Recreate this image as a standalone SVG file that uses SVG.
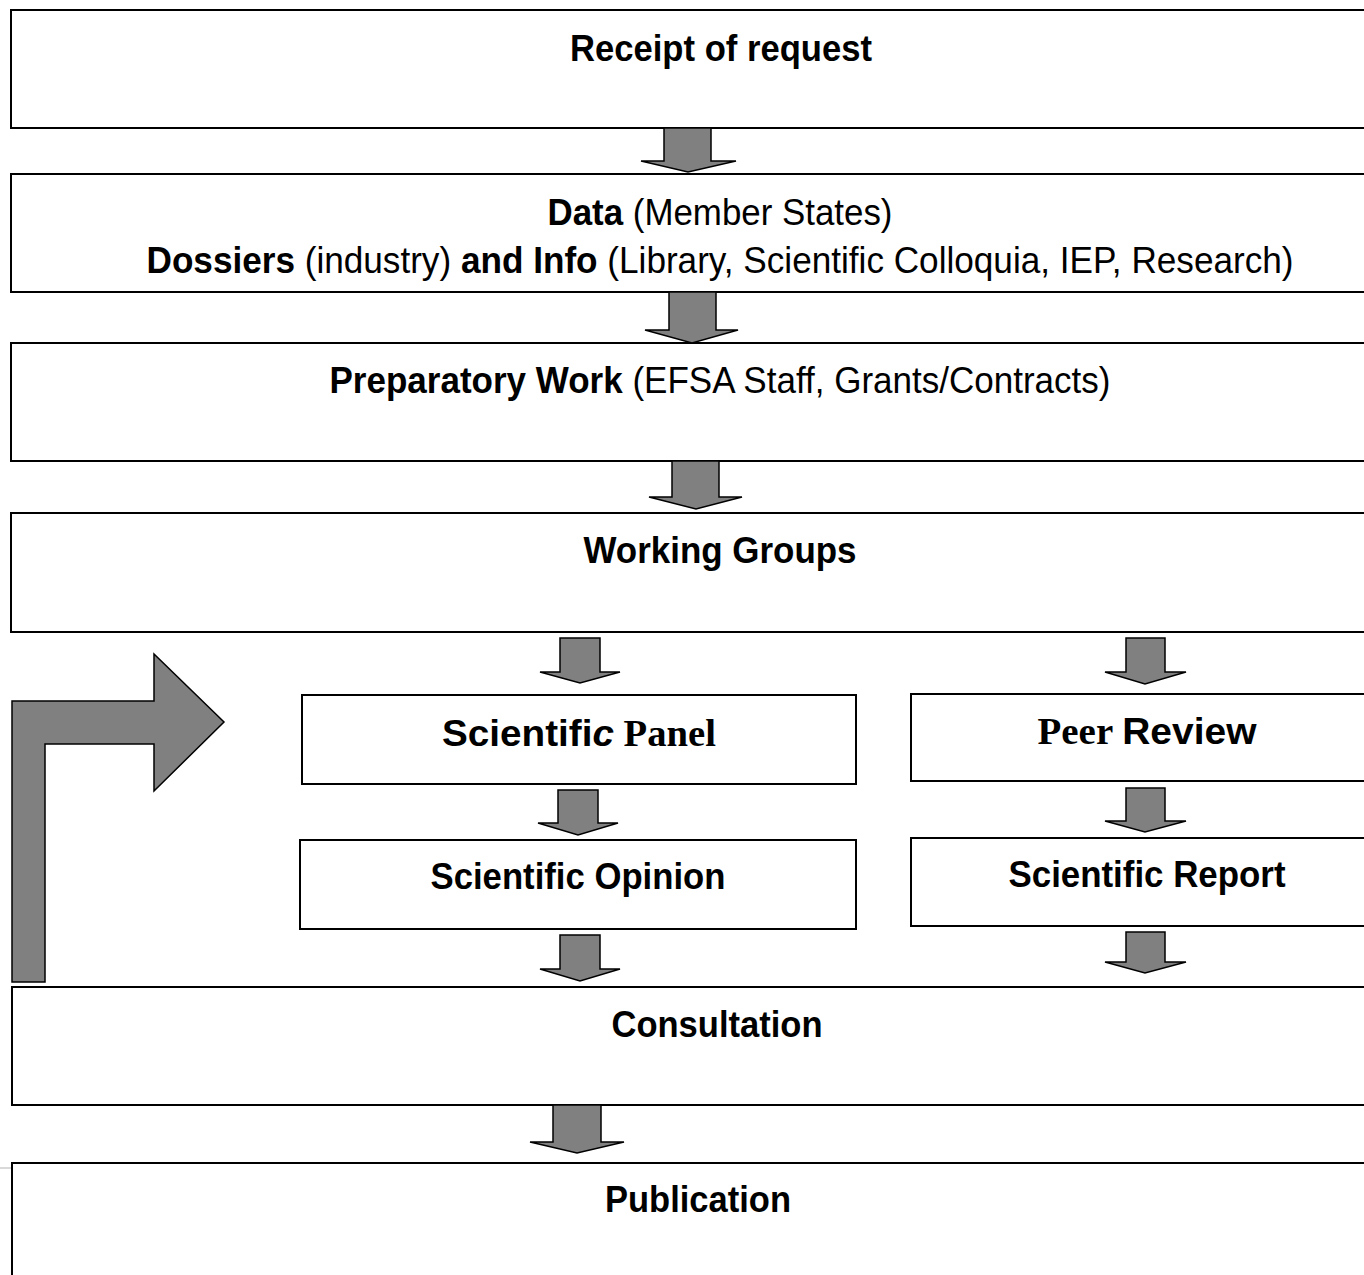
<svg xmlns="http://www.w3.org/2000/svg" width="1364" height="1275" viewBox="0 0 1364 1275">
<style>
.box{fill:#fff;stroke:#000;stroke-width:2}
.arr{fill:#808080;stroke:#000;stroke-width:1.5;stroke-linejoin:miter}
text{font-family:"Liberation Sans",Arial,sans-serif;font-size:37px;fill:#000;text-anchor:middle}
.b{font-weight:bold}
.serif{font-family:"Liberation Serif","Times New Roman",serif;font-weight:bold}
</style>
<rect width="1364" height="1275" fill="#fff"/>
<g id="receipt"><rect class="box" x="11" y="10" width="1380" height="118"/><text class="b" x="721" y="61" textLength="302" lengthAdjust="spacingAndGlyphs">Receipt of request</text></g>
<g id="data"><rect class="box" x="11" y="174" width="1380" height="118"/><text x="720" y="225" textLength="345" lengthAdjust="spacingAndGlyphs"><tspan class="b">Data</tspan> (Member States)</text><text x="720" y="273" textLength="1147" lengthAdjust="spacingAndGlyphs"><tspan class="b">Dossiers</tspan> (industry) <tspan class="b">and Info</tspan> (Library, Scientific Colloquia, IEP, Research)</text></g>
<g id="prep"><rect class="box" x="11" y="343" width="1380" height="118"/><text x="720" y="393" textLength="781" lengthAdjust="spacingAndGlyphs"><tspan class="b">Preparatory Work</tspan> (EFSA Staff, Grants/Contracts)</text></g>
<g id="wg"><rect class="box" x="11" y="513" width="1380" height="119"/><text class="b" x="720" y="563" textLength="273" lengthAdjust="spacingAndGlyphs">Working Groups</text></g>
<g id="panel"><rect class="box" x="302" y="695" width="554" height="89"/><text x="579" y="746" textLength="274" lengthAdjust="spacingAndGlyphs"><tspan class="b">Scientifi</tspan><tspan class="b" font-style="italic">c</tspan><tspan class="serif"> Panel</tspan></text></g>
<g id="peer"><rect class="box" x="911" y="694" width="480" height="87"/><text x="1147" y="744" textLength="219" lengthAdjust="spacingAndGlyphs"><tspan class="serif">Peer </tspan><tspan class="b">Review</tspan></text></g>
<g id="opinion"><rect class="box" x="300" y="840" width="556" height="89"/><text class="b" x="578" y="889" textLength="295" lengthAdjust="spacingAndGlyphs">Scientific Opinion</text></g>
<g id="report"><rect class="box" x="911" y="838" width="480" height="88"/><text class="b" x="1147" y="887" textLength="277" lengthAdjust="spacingAndGlyphs">Scientific Report</text></g>
<g id="consultation"><rect class="box" x="12" y="987" width="1380" height="118"/><text class="b" x="717" y="1037" textLength="211" lengthAdjust="spacingAndGlyphs">Consultation</text></g>
<g id="publication"><line x1="0" y1="1168" x2="12" y2="1168" stroke="#ccc" stroke-width="1.5"/><rect class="box" x="12" y="1163" width="1380" height="130"/><text class="b" x="698" y="1212" textLength="186" lengthAdjust="spacingAndGlyphs">Publication</text></g>
<g id="connectors">
<polygon class="arr" points="664,128 711,128 711,161 736,161 688,172 641,161 664,161"/>
<polygon class="arr" points="669,292 716,292 716,330 738,330 692,343 645,330 669,330"/>
<polygon class="arr" points="672,461 719,461 719,497 742,497 696,509 649,497 672,497"/>
<polygon class="arr" points="560,638 600,638 600,672 620,672 580,683 540,672 560,672"/>
<polygon class="arr" points="1126,638 1165,638 1165,672 1186,672 1145,684 1105,672 1126,672"/>
<polygon class="arr" points="558,790 598,790 598,823 618,823 578,835 538,823 558,823"/>
<polygon class="arr" points="1126,788 1165,788 1165,821 1186,821 1145,832 1105,821 1126,821"/>
<polygon class="arr" points="560,935 600,935 600,969 620,969 580,981 540,969 560,969"/>
<polygon class="arr" points="1126,932 1165,932 1165,962 1186,962 1145,973 1105,962 1126,962"/>
<polygon class="arr" points="553,1105 601,1105 601,1142 624,1142 577,1153 530,1142 553,1142"/>
<polygon class="arr" points="12,982 12,701 154,701 154,654 224,722 154,791 154,744 45,744 45,982"/>
</g>
</svg>
